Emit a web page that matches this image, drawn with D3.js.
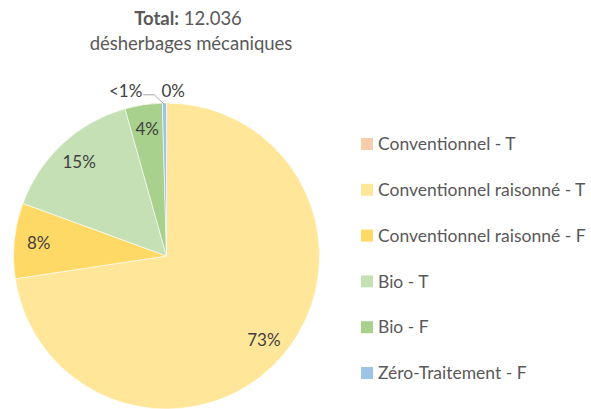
<!DOCTYPE html>
<html>
<head>
<meta charset="utf-8">
<script src="https://cdn.jsdelivr.net/npm/d3@7"></script>
<style>
  body { margin: 0; background: #fff; }
  svg { display: block; font-family: Lato, "Open Sans", sans-serif; }
</style>
</head>
<body>
<svg id="chart" width="591" height="409"></svg>
<script>
const categories = ['Conventionnel - T', 'Conventionnel raisonné - T', 'Conventionnel raisonné - F', 'Bio - T', 'Bio - F', 'Zéro-Traitement - F']
const values = [0, 8740, 960, 1810, 474, 52]
const labels = ['0%', '73%', '8%', '15%', '4%', '<1%']
const colors = ['#F8CBAD', '#FFE699', '#FFD966', '#C5E0B4', '#A9D18E', '#9DC3E6']

const width = 591
const height = 409
const cx = 166.5, cy = 256, radius = 153

const svg = d3.select('#chart')

// title
const title = svg.append('text')
  .attr('x', 188)
  .attr('y', 25)
  .attr('text-anchor', 'middle')
  .attr('fill', '#595959')
  .style('font-size', '18.5px')
title.append('tspan').attr('font-weight', 'bold').text('Total:')
title.append('tspan').text(' 12.036')

svg.append('text')
  .attr('x', 191)
  .attr('y', 50)
  .attr('text-anchor', 'middle')
  .attr('fill', '#595959')
  .style('font-size', '18.5px')
  .text('désherbages mécaniques')

const data = categories.map((c, i) => ({ name: c, value: values[i], label: labels[i], color: colors[i] }))

const pie = d3.pie().sort(null).value(d => d.value)
const arcs = pie(data)

const arc = d3.arc().innerRadius(0).outerRadius(radius)
const labelArc = d3.arc().innerRadius(radius * 0.84).outerRadius(radius * 0.84)
const outerArc = d3.arc().innerRadius(radius * 1.08).outerRadius(radius * 1.08)

const g = svg.append('g').attr('transform', `translate(${cx},${cy})`)

g.selectAll('path')
  .data(arcs)
  .join('path')
  .attr('d', arc)
  .attr('fill', d => d.data.color)
  .attr('stroke', '#fff')
  .attr('stroke-width', 0.6)

// labels inside the big slices
g.selectAll('text.inside')
  .data(arcs.filter(d => d.data.value / 12036 > 0.02))
  .join('text')
  .attr('class', 'inside')
  .attr('transform', d => `translate(${labelArc.centroid(d)})`)
  .attr('text-anchor', 'middle')
  .attr('dy', '0.35em')
  .attr('fill', '#404040')
  .style('font-size', '17px')
  .text(d => d.data.label)

// small slices: labels outside
const zero = arcs[0]
const tiny = arcs[5]
const pz = outerArc.centroid(zero)
g.append('text')
  .attr('x', pz[0] - 5)
  .attr('y', pz[1])
  .attr('dy', '0.35em')
  .attr('fill', '#404040')
  .style('font-size', '17px')
  .text(zero.data.label)

const pt = outerArc.centroid(tiny)
const edge = d3.arc().innerRadius(radius * 0.99).outerRadius(radius * 0.99).centroid(tiny)
g.append('polyline')
  .attr('points', [[pt[0] - 21, pt[1] + 4], [pt[0] - 10, pt[1] + 4], edge])
  .attr('fill', 'none')
  .attr('stroke', '#a6a6a6')
  .attr('stroke-width', 1)
g.append('text')
  .attr('x', pt[0] - 22)
  .attr('y', pt[1])
  .attr('dy', '0.35em')
  .attr('text-anchor', 'end')
  .attr('fill', '#404040')
  .style('font-size', '17px')
  .text(tiny.data.label)

// legend
const y = d3.scalePoint().domain(categories).range([144, 373])
const legend = svg.append('g')
  .selectAll('g')
  .data(data)
  .join('g')
  .attr('transform', d => `translate(361,${y(d.name)})`)

legend.append('rect')
  .attr('x', 0)
  .attr('y', -6)
  .attr('width', 12)
  .attr('height', 12)
  .attr('fill', d => d.color)

legend.append('text')
  .attr('x', 17)
  .attr('dy', '0.35em')
  .attr('fill', '#595959')
  .style('font-size', '17.5px')
  .text(d => d.name)
</script>
</body>
</html>
